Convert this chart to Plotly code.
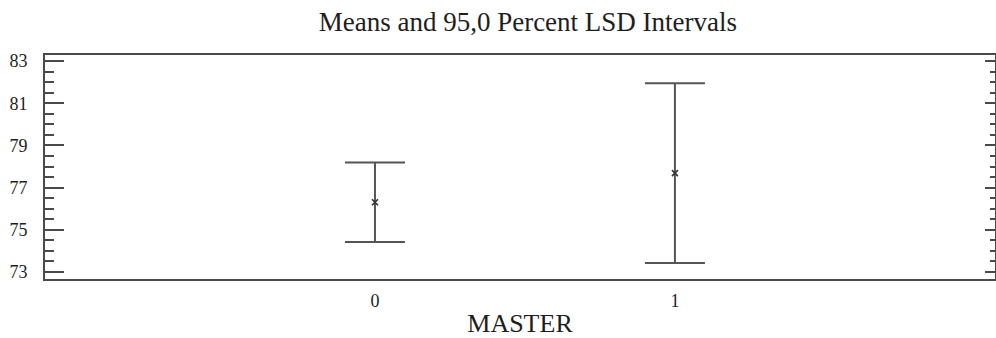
import plotly.graph_objects as go

# Group levels of MASTER, group means and LSD half-widths (95,0 %)
levels = [0, 1]
level_labels = ["0", "1"]
means = [76.31, 77.69]
lsd_half = [1.88, 4.26]

y_ticks = [73, 75, 77, 79, 81, 83]

FONT = "Liberation Serif, Times New Roman, serif"
LINE = "#4a4a4a"
TXT = "#1e1e1e"

fig = go.Figure()
fig.add_trace(go.Scatter(
    x=levels,
    y=means,
    mode="markers",
    marker=dict(symbol="x-thin", size=6, line=dict(width=1.6, color="#333333"), color="#333333"),
    error_y=dict(type="data", array=lsd_half, symmetric=True,
                 color="#555555", thickness=2, width=30),
    showlegend=False,
))
# invisible trace bound to the right-hand axis so its ticks get drawn
fig.add_trace(go.Scatter(x=levels, y=means, yaxis="y2", mode="markers",
                         marker=dict(opacity=0), showlegend=False, hoverinfo="skip"))

fig.update_layout(
    width=996, height=338,
    margin=dict(l=45, r=1, t=55, b=59),
    paper_bgcolor="white", plot_bgcolor="white",
    font=dict(family=FONT, color=TXT),
    title=dict(text="Means and 95,0 Percent LSD Intervals", x=0.53, xanchor="center",
               y=0.935, yanchor="middle", font=dict(size=27, family=FONT, color=TXT)),
    xaxis=dict(
        range=[-1.1, 2.067], tickvals=levels, ticktext=level_labels,
        showgrid=False, zeroline=False, ticks="",
        showline=True, linecolor=LINE, linewidth=2, mirror=True,
        tickfont=dict(size=18, family=FONT, color=TXT),
        ticklabelstandoff=4,
        title=dict(text="MASTER", font=dict(size=26, family=FONT, color=TXT), standoff=6),
    ),
    yaxis=dict(
        range=[72.67, 83.29], tickvals=y_ticks, ticktext=[str(v) for v in y_ticks],
        showgrid=False, zeroline=False,
        showline=True, linecolor=LINE, linewidth=2,
        ticks="inside", ticklen=19, tickwidth=1.5, tickcolor=LINE,
        minor=dict(dtick=0.5, tick0=73, ticks="inside", ticklen=9, tickwidth=1.5, tickcolor=LINE),
        tickfont=dict(size=18, family=FONT, color=TXT),
        ticklabelstandoff=12,
    ),
    yaxis2=dict(
        overlaying="y", side="right", matches="y", range=[72.67, 83.29],
        tickvals=y_ticks, showticklabels=False, showgrid=False, zeroline=False,
        showline=True, linecolor=LINE, linewidth=2,
        ticks="inside", ticklen=10, tickwidth=1.5, tickcolor=LINE,
        minor=dict(dtick=0.5, tick0=73, ticks="inside", ticklen=5, tickwidth=1.5, tickcolor=LINE),
    ),
)

fig.write_html("out.html")
